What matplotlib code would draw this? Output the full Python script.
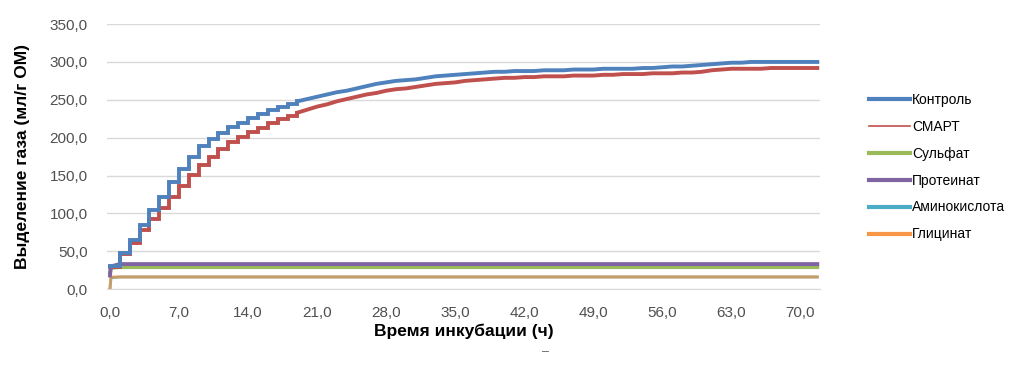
import matplotlib
matplotlib.use('Agg')
import matplotlib.pyplot as plt
from matplotlib.lines import Line2D
from matplotlib.ticker import FuncFormatter

plt.rcParams['font.family'] = ['Liberation Sans', 'DejaVu Sans']

# hourly readings (ml/g OM), hours 0..71 plus end point
hours = list(range(72)) + [71.7]

control = [30, 48, 65, 84, 104, 122, 142, 159, 175, 189,
           198, 206, 214, 220, 226, 231, 236, 240, 244, 248,
           251, 254, 257, 260, 262, 265, 268, 271, 273, 275,
           276, 277, 279, 281, 282, 283, 284, 285, 286, 287,
           287, 288, 288, 288, 289, 289, 289, 290, 290, 290,
           291, 291, 291, 291, 292, 292, 293, 294, 294, 295,
           296, 297, 298, 299, 299, 300, 300, 300, 300, 300,
           300, 300, 300]

smart = [29, 46, 61, 78, 92, 107, 122, 136, 151, 164,
         174, 185, 194, 201, 207, 213, 219, 224, 229, 233,
         237, 241, 244, 248, 251, 254, 257, 259, 262, 264,
         265, 267, 269, 271, 272, 273, 275, 276, 277, 278,
         279, 279, 280, 280, 281, 281, 281, 282, 282, 282,
         283, 283, 284, 284, 284, 285, 285, 285, 286, 286,
         287, 289, 290, 291, 291, 291, 291, 292, 292, 292,
         292, 292, 292]

# near-flat series
flat_t = [0.0, 0.1, 1.0, 71.7]
sulfat = [22, 28, 29, 29]
proteinat = [18, 30, 33, 33]
amino = [0, 15, 16, 16]
glycinat = [0, 16, 16, 16]

labels = ['Контроль', 'СМАРТ', 'Сульфат', 'Протеинат', 'Аминокислота', 'Глицинат']
colors = ['#4F81BD', '#C0504D', '#9BBB59', '#8064A2', '#4BACC6', '#F79646']

fig = plt.figure(figsize=(10.24, 3.65), dpi=100)
ax = fig.add_axes([0.1045, 0.208, 0.6965, 0.726])

ax.plot(flat_t, amino, color=colors[4], lw=2.0, zorder=2)
ax.plot(flat_t, glycinat, color=colors[5], lw=2.2, alpha=0.72, zorder=3)
ax.plot(flat_t, sulfat, color=colors[2], lw=2.8, zorder=3)
ax.plot(flat_t, proteinat, color=colors[3], lw=2.8, zorder=4.5)

# stepped readings early on, smooth afterwards
k = 19
for vals, c, z in [(smart, colors[1], 4), (control, colors[0], 5)]:
    ax.plot(hours[:k + 1], vals[:k + 1], color=c, lw=2.8, drawstyle='steps-post',
            zorder=z, solid_joinstyle='miter')
    ax.plot(hours[k:], vals[k:], color=c, lw=2.8, zorder=z)

ax.set_xlim(-0.3, 72)
ax.set_ylim(0, 350)
ax.set_xticks([0, 7, 14, 21, 28, 35, 42, 49, 56, 63, 70])
ax.set_yticks(range(0, 351, 50))
fmt = FuncFormatter(lambda v, p: '{:.1f}'.format(v).replace('.', ','))
ax.xaxis.set_major_formatter(fmt)
ax.yaxis.set_major_formatter(fmt)
ax.tick_params(length=0, labelsize=11, colors='#505050')
ax.tick_params(axis='x', pad=12)
ax.tick_params(axis='y', pad=14)
ax.grid(True, axis='y', color='#D9D9D9', lw=1)
ax.set_axisbelow(True)
for s in ['top', 'right', 'left']:
    ax.spines[s].set_visible(False)
ax.spines['bottom'].set_color('#D9D9D9')

ax.set_xlabel('Время инкубации (ч)', fontsize=12.5, fontweight='bold', labelpad=3)
ax.set_ylabel('Выделение газа (мл/г ОМ)', fontsize=12.5, fontweight='bold', labelpad=14)

widths = [3, 1.2, 3, 3, 3, 3]
handles = [Line2D([], [], color=c, lw=w) for c, w in zip(colors, widths)]
fig.legend(handles, labels, loc='upper left', bbox_to_anchor=(0.836, 0.78),
           frameon=False, fontsize=10, handlelength=3.0, handletextpad=0.15,
           labelspacing=0.93)

fig.text(0.529, 0.027, '–', fontsize=9, color='#606060')

plt.savefig('out.png', dpi=100, facecolor='w')
plt.close()
